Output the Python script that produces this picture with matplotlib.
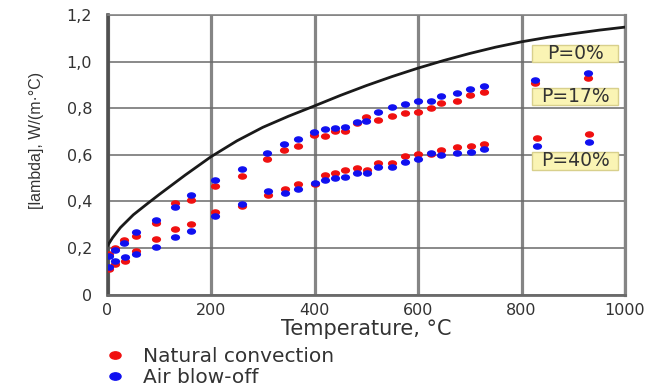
import numpy as np
import matplotlib.pyplot as plt
from matplotlib.path import Path
from matplotlib.transforms import Affine2D
from matplotlib.lines import Line2D
from matplotlib.patches import Rectangle

plt.rcParams['font.family'] = ['DejaVu Sans']

# curve P=0%
curve_t = [0, 10, 25, 50, 75, 100, 150, 200, 250, 300, 350, 400, 450, 500, 550, 600, 650, 700, 750, 800,
           850, 900, 950, 1000]
curve_l = [0.21, 0.245, 0.288, 0.343, 0.387, 0.43, 0.513, 0.592, 0.66, 0.718, 0.766, 0.81, 0.855, 0.897,
           0.936, 0.972, 1.005, 1.035, 1.062, 1.085, 1.104, 1.12, 1.135, 1.148]

# upper branch
t_up = [3, 15, 32, 56, 94, 130, 161, 208, 260, 308, 342, 369, 399, 420, 440, 458, 483, 500, 522, 550, 575,
        600, 625, 644, 676, 701, 727, 827, 929]
red_up = [0.175, 0.200, 0.235, 0.253, 0.306, 0.392, 0.406, 0.466, 0.509, 0.582, 0.621, 0.640, 0.685, 0.681,
          0.704, 0.704, 0.736, 0.764, 0.750, 0.767, 0.778, 0.785, 0.803, 0.824, 0.833, 0.857, 0.871, 0.907, 0.931]
blue_up = [0.166, 0.192, 0.223, 0.270, 0.320, 0.375, 0.428, 0.492, 0.539, 0.607, 0.645, 0.668, 0.697, 0.710,
           0.717, 0.721, 0.741, 0.747, 0.783, 0.807, 0.818, 0.833, 0.833, 0.854, 0.867, 0.881, 0.896, 0.921, 0.953]

# lower branch
t_lo = [3, 14, 34, 56, 93, 130, 162, 208, 260, 310, 343, 369, 400, 420, 440, 458, 483, 501, 522, 550, 575,
        600, 625, 644, 676, 702, 727, 829, 930]
red_lo = [0.110, 0.132, 0.145, 0.188, 0.238, 0.280, 0.305, 0.355, 0.379, 0.428, 0.455, 0.474, 0.474, 0.514,
          0.521, 0.535, 0.545, 0.535, 0.567, 0.567, 0.595, 0.603, 0.603, 0.621, 0.635, 0.640, 0.647, 0.671, 0.690]
blue_lo = [0.120, 0.145, 0.160, 0.173, 0.203, 0.249, 0.275, 0.339, 0.389, 0.444, 0.435, 0.452, 0.478, 0.492,
           0.500, 0.504, 0.524, 0.524, 0.547, 0.547, 0.571, 0.581, 0.607, 0.600, 0.607, 0.614, 0.624, 0.640, 0.657]

p_labels = ['P=0%', 'P=17%', 'P=40%']
p_y = [1.035, 0.849, 0.574]
series_names = ['Natural convection', 'Air blow-off']
yticks = [0, 0.2, 0.4, 0.6, 0.8, 1.0, 1.2]
ytick_labels = ['0', '0,2', '0,4', '0,6', '0,8', '1,0', '1,2']
xticks = [0, 200, 400, 600, 800, 1000]

red = '#f01010'
blue = '#1010f0'
txt = '#333333'

# ellipse marker (wider than tall)
ell = Path.unit_circle().transformed(Affine2D().scale(1.0, 0.66))

fig = plt.figure(figsize=(6.49, 3.92), dpi=100)
ax = fig.add_axes([107.5 / 649, 1 - 294.7 / 392, 517.5 / 649, 279.7 / 392])

ax.plot(curve_t, curve_l, color='#1a1a1a', lw=2.0, zorder=3)
ax.plot(t_up, red_up, ls='', marker=ell, ms=5.6, color=red, zorder=4)
ax.plot(t_lo, red_lo, ls='', marker=ell, ms=5.6, color=red, zorder=4)
ax.plot(t_up, blue_up, ls='', marker=ell, ms=5.6, color=blue, zorder=4)
ax.plot(t_lo, blue_lo, ls='', marker=ell, ms=5.6, color=blue, zorder=4)

ax.set_xlim(0, 1000)
ax.set_ylim(0, 1.2)
ax.set_xticks(xticks)
ax.set_yticks(yticks)
ax.set_yticklabels(ytick_labels)
ax.tick_params(axis='both', length=0, labelsize=11.5, colors=txt)
ax.tick_params(axis='y', pad=11)
ax.tick_params(axis='x', pad=6)

ax.grid(axis='x', color='#858585', lw=2.3, zorder=1)
ax.grid(axis='y', color='#6a6a6a', lw=1.1, zorder=1)
ax.set_axisbelow(True)
ax.spines['left'].set(color='#505050', lw=2.6)
ax.spines['bottom'].set(color='#6a6a6a', lw=2.0)
ax.spines['right'].set(color='#858585', lw=2.3)
ax.spines['top'].set(color='#858585', lw=1.2)

ax.set_xlabel('Temperature, °C', fontsize=15, color=txt, labelpad=1)
ax.set_ylabel('[lambda], W/(m·°C)', fontsize=11.5, color=txt, family=['Liberation Sans', 'DejaVu Sans'])
ax.yaxis.set_label_coords(-0.122, 0.553)

for lab, yc in zip(p_labels, p_y):
    ax.add_patch(Rectangle((820, yc - 0.037), 167, 0.074, facecolor='#faf4b4', edgecolor='#d8d08c',
                           lw=1.0, zorder=5))
    ax.text(903.5, yc, lab, ha='center', va='center', fontsize=13.5, color=txt, zorder=6)

handles = [Line2D([], [], ls='', marker=ell, ms=8, color=red),
           Line2D([], [], ls='', marker=ell, ms=8, color=blue)]
fig.legend(handles, series_names, loc='upper left', bbox_to_anchor=(104 / 649, 1 - 347 / 392),
           frameon=False, fontsize=14.5, labelcolor=txt, borderpad=0, borderaxespad=0,
           handlelength=1.1, handletextpad=0.85, labelspacing=0.08)

fig.savefig('out.png', dpi=100)
